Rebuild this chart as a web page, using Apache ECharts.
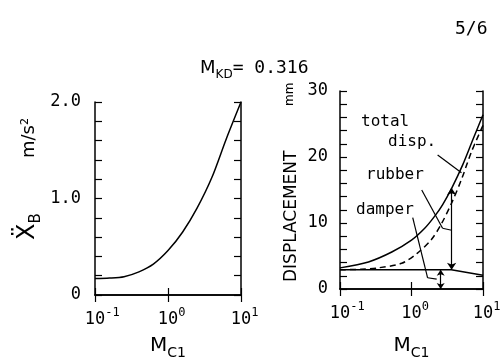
<!DOCTYPE html>
<html>
<head>
<meta charset="utf-8">
<script src="https://cdn.jsdelivr.net/npm/echarts@6/dist/echarts.min.js"></script>
<style>
  html, body { margin: 0; padding: 0; background: #fff; }
  #chart { width: 504px; height: 361px; }
</style>
</head>
<body>
<div id="chart"></div>
<script>
// données
var xAccel = [0.1, 0.158, 0.25, 0.4, 0.63, 1, 1.58, 2.5, 4, 6.3, 10];
var accelB = [0.17, 0.175, 0.19, 0.24, 0.32, 0.46, 0.65, 0.90, 1.22, 1.62, 2.0];

var xTotal = [0.1, 0.25, 0.53, 1.0, 1.53, 2.1, 2.73, 3.7, 5.2, 7.2, 10];
var dispTotal = [3.2, 4.1, 5.6, 7.4, 9.2, 11.0, 12.8, 15.4, 18.8, 22.6, 26.4];

var xRubber = [0.1, 0.2, 0.34, 0.73, 1.2, 1.9, 2.6, 3.7, 5.0, 6.9, 10];
var dispRubber = [2.9, 3.0, 3.2, 3.9, 5.4, 7.5, 9.8, 13.2, 16.6, 20.8, 24.8];

var xDamper = [0.1, 1, 3.6, 10];
var dispDamper = [2.9, 2.9, 2.9, 2.1];

var accelTicks = [0, 1, 2];
var dispTicks = [0, 10, 20, 30];

var ink = '#000';
var mono = 'DejaVu Sans Mono';

function zip(xs, ys) {
  return xs.map(function (x, i) { return [x, ys[i]]; });
}

// "10" centré sur la graduation : on met un exposant invisible devant
function logLabel(v) {
  var e = Math.round(Math.log10(v));
  return '{h|' + e + '}{b|10}{s|' + e + '}';
}

var logRich = {
  h: {fontFamily: mono, fontSize: 12, color: 'rgba(0,0,0,0)', lineHeight: 12, verticalAlign: 'top'},
  b: {fontFamily: mono, fontSize: 17, color: ink, lineHeight: 21, verticalAlign: 'bottom'},
  s: {fontFamily: mono, fontSize: 12, color: ink, lineHeight: 12, verticalAlign: 'top'}
};

var nameRich = {
  m: {fontFamily: 'DejaVu Sans', fontSize: 20, color: ink, lineHeight: 24, verticalAlign: 'top'},
  s: {fontFamily: 'DejaVu Sans', fontSize: 14, color: ink, lineHeight: 14, verticalAlign: 'bottom'}
};

function xBottom(grid, gap) {
  return {
    type: 'log', logBase: 10, min: 0.1, max: 10, gridIndex: grid, position: 'bottom',
    axisLine: {lineStyle: {color: ink, width: 1.5}},
    axisTick: {inside: true, length: 7, lineStyle: {color: ink, width: 1.2}},
    splitLine: {show: false},
    minorTick: {show: false},
    axisLabel: {formatter: logLabel, rich: logRich, margin: 12, showMinLabel: true, showMaxLabel: true},
    name: '{m|M}{s|C1}',
    nameLocation: 'middle',
    nameGap: gap,
    nameTextStyle: {rich: nameRich}
  };
}

function xTop(grid) {
  return {
    type: 'log', logBase: 10, min: 0.1, max: 10, gridIndex: grid, position: 'top',
    axisLine: {lineStyle: {color: ink, width: 1.5}},
    axisTick: {inside: true, length: 7, lineStyle: {color: ink, width: 1.2}},
    splitLine: {show: false},
    axisLabel: {show: false}
  };
}

function yAxisDef(grid, max, step, ticks, side, fmt, margin) {
  return {
    type: 'value', gridIndex: grid, min: 0, max: max, interval: step, position: side,
    axisLine: {show: true, lineStyle: {color: ink, width: 1.5}},
    axisTick: {show: true, inside: true, length: 7, lineStyle: {color: ink, width: 1.2}},
    splitLine: {show: false},
    axisLabel: {
      show: side === 'left',
      margin: margin,
      fontFamily: mono,
      fontSize: 17,
      color: ink,
      formatter: function (v) {
        for (var i = 0; i < ticks.length; i++) {
          if (Math.abs(v - ticks[i]) < 1e-6) {
            return fmt(ticks[i]);
          }
        }
        return '';
      }
    }
  };
}

function accelFmt(v) { return v === 0 ? '0' : v.toFixed(1); }
function dispFmt(v) { return String(v); }

// lignes de rappel (coordonnées en unités du graphe)
function seg(a, b, endSym) {
  return [
    {coord: a, symbol: 'none'},
    {coord: b, symbol: endSym || 'none'}
  ];
}

var chart = echarts.init(document.getElementById('chart'), null, {renderer: 'canvas'});

var option = {
  animation: false,
  backgroundColor: '#fff',
  title: {
    text: '{m|M}{s|KD}{n|= 0.316}',
    left: 195,
    top: 54,
    textStyle: {
      fontWeight: 'normal',
      rich: {
        m: {fontFamily: 'DejaVu Sans', fontWeight: 'normal', fontSize: 18, color: ink, lineHeight: 22, verticalAlign: 'top'},
        s: {fontFamily: 'DejaVu Sans', fontWeight: 'normal', fontSize: 12, color: ink, lineHeight: 12, verticalAlign: 'bottom'},
        n: {fontFamily: mono, fontWeight: 'normal', fontSize: 18, color: ink, lineHeight: 22, verticalAlign: 'top'}
      }
    }
  },
  // pas de recadrage automatique (ECharts 6) : la grille reste où on la met
  grid: [
    {left: 95, right: 263, top: 102, bottom: 66, containLabel: false, outerBoundsMode: 'none'},
    {left: 340, right: 21, top: 91, bottom: 72, containLabel: false, outerBoundsMode: 'none'}
  ],
  xAxis: [xBottom(0, 41), xTop(0), xBottom(1, 47), xTop(1)],
  yAxis: [
    yAxisDef(0, 2, 0.2, accelTicks, 'left', accelFmt, 14),
    yAxisDef(0, 2, 0.2, accelTicks, 'right', accelFmt, 14),
    yAxisDef(1, 30, 2, dispTicks, 'left', dispFmt, 12),
    yAxisDef(1, 30, 2, dispTicks, 'right', dispFmt, 12)
  ],
  series: [
    {
      name: 'accel',
      type: 'line',
      xAxisIndex: 0, yAxisIndex: 0,
      data: zip(xAccel, accelB),
      smooth: 0.3,
      symbol: 'none',
      lineStyle: {color: ink, width: 1.5}
    },
    {
      name: 'total disp.',
      type: 'line',
      xAxisIndex: 2, yAxisIndex: 2,
      data: zip(xTotal, dispTotal),
      smooth: 0.3,
      symbol: 'none',
      lineStyle: {color: ink, width: 1.5},
      markLine: {
        silent: true,
        symbolSize: 7,
        label: {show: false},
        lineStyle: {color: ink, width: 1.2, type: 'solid'},
        data: [
          seg([2.32, 20.3], [5.0, 17.6]),
          seg([1.39, 15.0], [2.72, 9.2]),
          seg([2.72, 9.2], [3.64, 8.9]),
          [{coord: [3.64, 2.9], symbol: 'arrow'}, {coord: [3.64, 15.3], symbol: 'arrow'}]
        ]
      }
    },
    {
      name: 'rubber',
      type: 'line',
      xAxisIndex: 2, yAxisIndex: 2,
      data: zip(xRubber, dispRubber),
      smooth: 0.3,
      symbol: 'none',
      lineStyle: {color: ink, width: 1.5, type: [6, 4]}
    },
    {
      name: 'damper',
      type: 'line',
      xAxisIndex: 2, yAxisIndex: 2,
      data: zip(xDamper, dispDamper),
      symbol: 'none',
      lineStyle: {color: ink, width: 1.5},
      markLine: {
        silent: true,
        symbolSize: 6,
        label: {show: false},
        lineStyle: {color: ink, width: 1.2, type: 'solid'},
        data: [
          seg([1.04, 10.8], [1.68, 1.7]),
          seg([1.68, 1.7], [2.25, 1.5]),
          [{coord: [2.56, 0], symbol: 'arrow'}, {coord: [2.56, 2.9], symbol: 'arrow'}]
        ]
      }
    }
  ],
  graphic: [
    {type: 'text', left: 455, top: 20, style: {text: '5/6', fontFamily: mono, fontSize: 18, fill: ink}},
    // étiquettes des axes verticaux
    {type: 'text', x: 16, y: 240, rotation: Math.PI / 2,
      style: {text: '{x|Ẍ}{b|B}', rich: {
        x: {fontFamily: 'DejaVu Sans', fontSize: 24, fill: ink, lineHeight: 28, verticalAlign: 'top'},
        b: {fontFamily: 'DejaVu Sans', fontSize: 15, fill: ink, lineHeight: 15, verticalAlign: 'bottom'}
      }}},
    {type: 'text', x: 20, y: 158, rotation: Math.PI / 2,
      style: {text: 'm/s²', fontFamily: 'DejaVu Sans', fontSize: 18, fill: ink}},
    {type: 'text', x: 283, y: 282, rotation: Math.PI / 2,
      style: {text: 'DISPLACEMENT', fontFamily: 'DejaVu Sans', fontSize: 17, fill: ink}},
    {type: 'text', x: 284, y: 106, rotation: Math.PI / 2,
      style: {text: 'mm', fontFamily: 'DejaVu Sans', fontSize: 12, fill: ink}},
    // annotations
    {type: 'text', left: 361, top: 114, style: {text: 'total', fontFamily: mono, fontSize: 16, fill: ink}},
    {type: 'text', left: 388, top: 134, style: {text: 'disp.', fontFamily: mono, fontSize: 16, fill: ink}},
    {type: 'text', left: 366, top: 167, style: {text: 'rubber', fontFamily: mono, fontSize: 16, fill: ink}},
    {type: 'text', left: 356, top: 202, style: {text: 'damper', fontFamily: mono, fontSize: 16, fill: ink}}
  ]
};

chart.setOption(option);
</script>
</body>
</html>
